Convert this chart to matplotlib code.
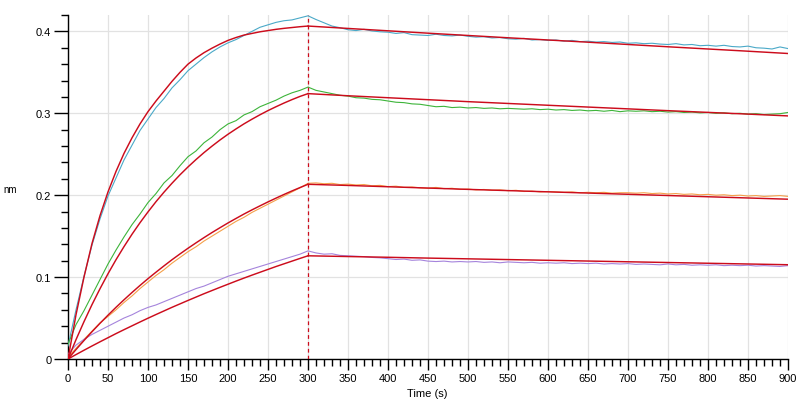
import numpy as np
import matplotlib
matplotlib.use("Agg")
import matplotlib.pyplot as plt
from matplotlib.ticker import MultipleLocator, FuncFormatter

# ---- time grids ----
t_data = np.arange(0, 901, 10)
t_fit_assoc = np.arange(0, 301, 10)
t_fit_dissoc = np.arange(300, 901, 50)

# ---- measured traces (nm) ----
cyan_data = [0.016, 0.060, 0.101, 0.139, 0.171, 0.199, 0.221, 0.243, 0.261, 0.279,
             0.293, 0.307, 0.318, 0.331, 0.341, 0.352, 0.360, 0.368, 0.375, 0.381,
             0.386, 0.390, 0.395, 0.400, 0.405, 0.408, 0.411, 0.413, 0.414, 0.4165,
             0.419,
             0.4145, 0.4105, 0.4065, 0.4045, 0.4020, 0.4010, 0.4025, 0.4005, 0.3995, 0.3990,
             0.3975, 0.3985, 0.3960, 0.3955, 0.3950, 0.3965, 0.3950, 0.3945, 0.3955, 0.3940,
             0.3930, 0.3935, 0.3920, 0.3925, 0.3910, 0.3905, 0.3915, 0.3895, 0.3900, 0.3890,
             0.3895, 0.3880, 0.3890, 0.3875, 0.3880, 0.3870, 0.3875, 0.3865, 0.3870, 0.3855,
             0.3860, 0.3850, 0.3855, 0.3845, 0.3840, 0.3850, 0.3835, 0.3840, 0.3825, 0.3830,
             0.3820, 0.3830, 0.3815, 0.3810, 0.3820, 0.3800, 0.3795, 0.3785, 0.3810, 0.3790]

green_data = [0.018, 0.042, 0.059, 0.078, 0.097, 0.116, 0.133, 0.149, 0.164, 0.177,
              0.191, 0.202, 0.215, 0.224, 0.236, 0.247, 0.254, 0.264, 0.271, 0.280,
              0.287, 0.291, 0.298, 0.302, 0.308, 0.312, 0.316, 0.321, 0.325, 0.328,
              0.332,
              0.3280, 0.3260, 0.3240, 0.3220, 0.3210, 0.3190, 0.3185, 0.3170, 0.3165, 0.3150,
              0.3135, 0.3130, 0.3115, 0.3110, 0.3095, 0.3080, 0.3085, 0.3070, 0.3075, 0.3065,
              0.3070, 0.3060, 0.3065, 0.3055, 0.3060, 0.3055, 0.3050, 0.3055, 0.3045, 0.3050,
              0.3040, 0.3045, 0.3035, 0.3040, 0.3030, 0.3035, 0.3025, 0.3035, 0.3020, 0.3030,
              0.3025, 0.3030, 0.3020, 0.3025, 0.3015, 0.3020, 0.3010, 0.3015, 0.3005, 0.3010,
              0.3000, 0.3005, 0.2995, 0.3000, 0.2990, 0.2995, 0.2985, 0.2990, 0.2995, 0.3010]

orange_data = [0.002, 0.013, 0.024, 0.034, 0.044, 0.052, 0.060, 0.069, 0.077, 0.086,
               0.094, 0.102, 0.109, 0.117, 0.124, 0.131, 0.137, 0.144, 0.150, 0.156,
               0.162, 0.168, 0.173, 0.179, 0.184, 0.189, 0.194, 0.199, 0.204, 0.209,
               0.2145,
               0.2150, 0.2140, 0.2145, 0.2130, 0.2135, 0.2125, 0.2130, 0.2115, 0.2120, 0.2105,
               0.2110, 0.2095, 0.2100, 0.2090, 0.2085, 0.2095, 0.2080, 0.2085, 0.2070, 0.2075,
               0.2065, 0.2070, 0.2060, 0.2065, 0.2055, 0.2060, 0.2045, 0.2050, 0.2040, 0.2045,
               0.2040, 0.2035, 0.2040, 0.2030, 0.2035, 0.2030, 0.2035, 0.2025, 0.2030, 0.2030,
               0.2025, 0.2030, 0.2020, 0.2025, 0.2015, 0.2020, 0.2010, 0.2015, 0.2005, 0.2010,
               0.2000, 0.2005, 0.1995, 0.2000, 0.1990, 0.1995, 0.1985, 0.1990, 0.1995, 0.1985]

purple_data = [0.006, 0.017, 0.024, 0.030, 0.035, 0.040, 0.045, 0.050, 0.054, 0.059,
               0.063, 0.066, 0.070, 0.074, 0.078, 0.082, 0.086, 0.089, 0.093, 0.097,
               0.101, 0.104, 0.107, 0.110, 0.113, 0.116, 0.119, 0.122, 0.125, 0.128,
               0.132,
               0.1295, 0.1280, 0.1285, 0.1265, 0.1260, 0.1255, 0.1250, 0.1240, 0.1235, 0.1225,
               0.1215, 0.1220, 0.1205, 0.1210, 0.1195, 0.1190, 0.1195, 0.1185, 0.1190, 0.1185,
               0.1190, 0.1180, 0.1185, 0.1175, 0.1185, 0.1180, 0.1175, 0.1180, 0.1170, 0.1175,
               0.1170, 0.1175, 0.1165, 0.1170, 0.1165, 0.1170, 0.1160, 0.1165, 0.1160, 0.1165,
               0.1155, 0.1160, 0.1155, 0.1150, 0.1160, 0.1150, 0.1155, 0.1145, 0.1150, 0.1145,
               0.1150, 0.1140, 0.1145, 0.1140, 0.1145, 0.1135, 0.1140, 0.1135, 0.1130, 0.1140]

# ---- fitted curves (nm) ----
fit1_assoc = [0.000, 0.054, 0.100, 0.141, 0.175, 0.204, 0.229, 0.251, 0.270, 0.287,
              0.302, 0.315, 0.327, 0.339, 0.350, 0.360, 0.3675, 0.374, 0.3795, 0.3845,
              0.389, 0.3925, 0.3955, 0.3975, 0.3995, 0.401, 0.4025, 0.4037, 0.4047, 0.4057,
              0.4065]
fit1_dissoc = [0.4065, 0.4036, 0.4007, 0.3978, 0.3950, 0.3922, 0.3895, 0.3868, 0.3840,
               0.3812, 0.3785, 0.3758, 0.3730]

fit2_assoc = [0.000, 0.0236, 0.0456, 0.0664, 0.0858, 0.1041, 0.1212, 0.1372, 0.1523, 0.1664,
              0.1796, 0.1921, 0.2037, 0.2146, 0.2249, 0.2345, 0.2435, 0.2520, 0.2599, 0.2674,
              0.2744, 0.2809, 0.2871, 0.2928, 0.2982, 0.3033, 0.3080, 0.3125, 0.3167, 0.3206,
              0.3240]
fit2_dissoc = [0.3240, 0.3214, 0.3190, 0.3166, 0.3142, 0.3120, 0.3098, 0.3076, 0.3054,
               0.3032, 0.3011, 0.2990, 0.2968]

fit3_assoc = [0.000, 0.0115, 0.0226, 0.0333, 0.0436, 0.0535, 0.0631, 0.0723, 0.0812, 0.0898,
              0.0981, 0.1060, 0.1137, 0.1212, 0.1283, 0.1352, 0.1418, 0.1482, 0.1544, 0.1603,
              0.1661, 0.1716, 0.1770, 0.1821, 0.1870, 0.1918, 0.1964, 0.2009, 0.2052, 0.2093,
              0.2133]
fit3_dissoc = [0.2133, 0.2119, 0.2103, 0.2087, 0.2071, 0.2056, 0.2041, 0.2026, 0.2011,
               0.1996, 0.1981, 0.1966, 0.1951]

fit4_assoc = [0.000, 0.0054, 0.0107, 0.0159, 0.0210, 0.0260, 0.0310, 0.0358, 0.0405, 0.0452,
              0.0498, 0.0543, 0.0587, 0.0631, 0.0673, 0.0715, 0.0756, 0.0797, 0.0836, 0.0875,
              0.0913, 0.0951, 0.0988, 0.1024, 0.1059, 0.1094, 0.1129, 0.1162, 0.1195, 0.1228,
              0.1260]
fit4_dissoc = [0.1260, 0.1251, 0.1242, 0.1232, 0.1223, 0.1214, 0.1205, 0.1196, 0.1187,
               0.1178, 0.1169, 0.1160, 0.1151]

switch_time = 300
x_ticks_major = 50
y_ticks_major = 0.1

data_colors = ["#4aa9c8", "#3db43a", "#f5a04a", "#a584dc"]
fit_color = "#cc0c1c"

fig = plt.figure(figsize=(8.02, 4.02), dpi=100)
ax = fig.add_axes([68 / 802, 42 / 402, 720 / 802, 344 / 402])

for series, c in zip([cyan_data, green_data, orange_data, purple_data], data_colors):
    ax.plot(t_data, series, color=c, lw=0.8, zorder=3)

for a, d in [(fit1_assoc, fit1_dissoc), (fit2_assoc, fit2_dissoc),
             (fit3_assoc, fit3_dissoc), (fit4_assoc, fit4_dissoc)]:
    ax.plot(t_fit_assoc, a, color=fit_color, lw=1.05, zorder=4)
    ax.plot(t_fit_dissoc, d, color=fit_color, lw=1.05, zorder=4)

ax.axvline(switch_time, color=fit_color, lw=0.9, ls=(0, (3, 2.5)), zorder=5)

ax.set_xlim(0, 900)
ax.set_ylim(0, 0.42)

ax.xaxis.set_major_locator(MultipleLocator(x_ticks_major))
ax.xaxis.set_minor_locator(MultipleLocator(10))
ax.yaxis.set_major_locator(MultipleLocator(y_ticks_major))
ax.yaxis.set_minor_locator(MultipleLocator(0.02))
ax.yaxis.set_major_formatter(FuncFormatter(lambda v, _: "0" if abs(v) < 1e-9 else f"{v:.1f}"))

for s in ["top", "right"]:
    ax.spines[s].set_visible(False)
for s in ["left", "bottom"]:
    ax.spines[s].set_linewidth(1.0)
    ax.spines[s].set_color("black")

ax.tick_params(axis="x", which="major", direction="out", length=8, width=1, labelsize=8, pad=2)
ax.tick_params(axis="x", which="minor", direction="out", length=5, width=1)
ax.tick_params(axis="y", which="major", direction="out", length=10, width=1, labelsize=8, pad=2)
ax.tick_params(axis="y", which="minor", direction="out", length=5, width=1)

for lbl in ax.get_xticklabels() + ax.get_yticklabels():
    lbl.set_family("Liberation Sans")

ax.grid(True, which="major", color="#e2e2e2", lw=0.9, zorder=0)
ax.set_axisbelow(True)

fig.text(427 / 802, 1 - 394 / 402, "Time (s)", ha="center", va="center",
         fontsize=8, family="Liberation Sans")
fig.text(10 / 802, 1 - 190 / 402, "nm", ha="center", va="center",
         fontsize=7, family="Liberation Sans")

fig.savefig("out.png", dpi=100)
